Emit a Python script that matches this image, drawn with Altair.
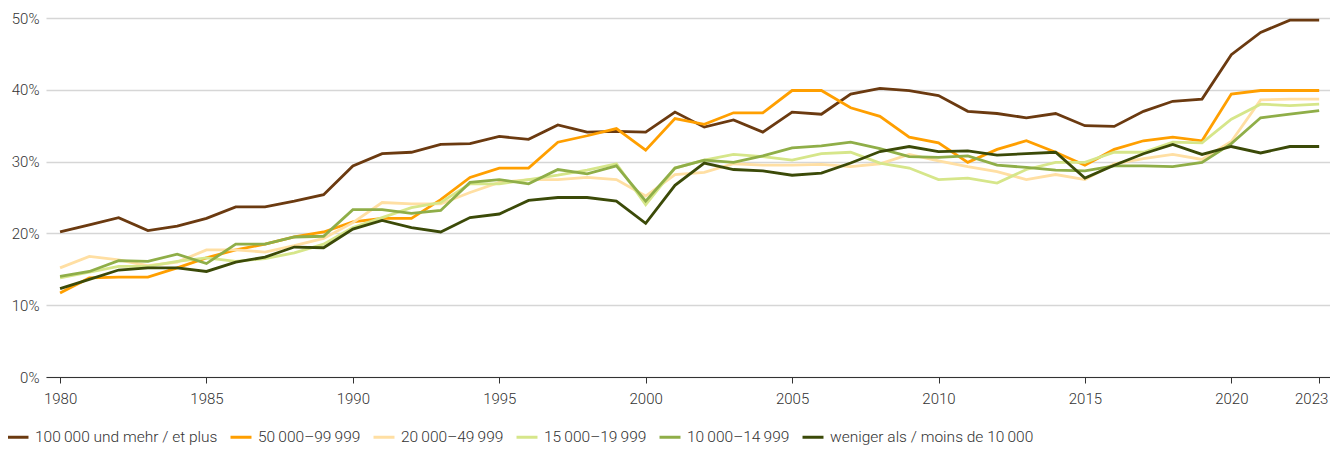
import altair as alt
import pandas as pd

years = list(range(1980, 2024))

s100k = [20.2, 21.2, 22.2, 20.4, 21.0, 22.1, 23.7, 23.7, 24.5, 25.4,
         29.4, 31.1, 31.3, 32.4, 32.5, 33.5, 33.1, 35.1, 34.1, 34.2,
         34.1, 36.9, 34.8, 35.8, 34.1, 36.9, 36.6, 39.4, 40.2, 39.9,
         39.2, 37.0, 36.7, 36.1, 36.7, 35.0, 34.9, 37.0, 38.4, 38.7,
         44.9, 48.0, 49.7, 49.7]
s50k = [11.7, 13.8, 13.9, 13.9, 15.2, 16.6, 17.7, 18.5, 19.5, 20.2,
        21.6, 22.1, 22.1, 24.7, 27.8, 29.1, 29.1, 32.7, 33.6, 34.6,
        31.6, 36.0, 35.2, 36.8, 36.8, 39.9, 39.9, 37.5, 36.3, 33.4,
        32.6, 29.9, 31.7, 32.9, 31.3, 29.5, 31.7, 32.9, 33.4, 32.9,
        39.4, 39.9, 39.9, 39.9]
s20k = [15.2, 16.8, 16.3, 15.5, 16.0, 17.7, 17.7, 17.4, 18.3, 19.3,
        21.5, 24.3, 24.1, 24.1, 25.7, 27.1, 27.5, 27.5, 27.8, 27.5,
        25.2, 28.2, 28.5, 29.7, 29.5, 29.5, 29.6, 29.3, 29.7, 31.0,
        30.1, 29.3, 28.6, 27.5, 28.2, 27.5, 29.7, 30.4, 31.0, 30.3,
        32.8, 38.6, 38.7, 38.7]
s15k = [13.8, 14.6, 15.4, 15.4, 16.1, 16.6, 16.1, 16.5, 17.3, 18.5,
        20.8, 22.2, 23.6, 24.3, 26.9, 26.9, 27.5, 28.1, 28.8, 29.7,
        24.0, 29.1, 30.2, 31.0, 30.7, 30.2, 31.1, 31.3, 29.8, 29.1,
        27.5, 27.7, 27.0, 28.9, 29.9, 29.9, 31.3, 31.3, 32.7, 32.6,
        35.9, 38.0, 37.8, 38.0]
s10k = [14.0, 14.7, 16.2, 16.1, 17.1, 15.8, 18.5, 18.5, 19.5, 19.6,
        23.3, 23.3, 22.8, 23.2, 27.1, 27.5, 26.9, 28.9, 28.3, 29.4,
        24.5, 29.1, 30.2, 29.9, 30.8, 31.9, 32.2, 32.7, 31.8, 30.7,
        30.6, 30.8, 29.5, 29.2, 28.8, 28.7, 29.4, 29.4, 29.3, 29.9,
        32.5, 36.1, 36.6, 37.1]
sless = [12.3, 13.6, 14.9, 15.2, 15.2, 14.7, 16.0, 16.7, 18.1, 18.0,
         20.6, 21.8, 20.8, 20.2, 22.2, 22.7, 24.6, 25.0, 25.0, 24.5,
         21.4, 26.7, 29.8, 28.9, 28.7, 28.1, 28.4, 29.8, 31.4, 32.1,
         31.4, 31.5, 30.9, 31.1, 31.3, 27.7, 29.5, 31.1, 32.4, 31.0,
         32.1, 31.2, 32.1, 32.1]

T = "\u2009"
series_names = [
    f"100{T}000 und mehr / et plus",
    f"50{T}000–99{T}999",
    f"20{T}000–49{T}999",
    f"15{T}000–19{T}999",
    f"10{T}000–14{T}999",
    f"weniger als / moins de 10{T}000",
]
series_values = [s100k, s50k, s20k, s15k, s10k, sless]
colors = ["#6b3a10", "#ff9f00", "#ffdfa3", "#d6e68a", "#8fae48", "#3b4a08"]

x_ticks = [1980, 1985, 1990, 1995, 2000, 2005, 2010, 2015, 2020, 2023]
y_ticks = [0, 10, 20, 30, 40, 50]

rows = []
for i, (name, vals) in enumerate(zip(series_names, series_values)):
    for y, v in zip(years, vals):
        rows.append({"Jahr": y, "Wert": v, "Serie": name, "ord": i})
df = pd.DataFrame(rows)

FONT = "Roboto"

chart = alt.Chart(df).mark_line(strokeWidth=2.8, strokeJoin="miter").encode(
    x=alt.X("Jahr:Q",
            scale=alt.Scale(domain=[1979.52, 2023.37], nice=False, zero=False),
            axis=alt.Axis(values=x_ticks, format="d", title=None, grid=False,
                          domainColor="#333333", domainWidth=1,
                          tickColor="#333333", tickSize=6, tickWidth=1,
                          labelPadding=8, labelFontSize=15, labelColor="#333333",
                          labelFont=FONT, labelFontWeight=300,
                          labelOffset={"condition": {"test": "datum.value == 2023", "value": -8},
                                       "value": 0})),
    y=alt.Y("Wert:Q",
            scale=alt.Scale(domain=[0, 50], nice=False),
            axis=alt.Axis(values=y_ticks, labelExpr="datum.value + '%'", title=None,
                          domain=False, ticks=False, grid=True,
                          gridColor="#d6d6d6", gridWidth=1.3,
                          labelPadding=7, labelFontSize=15, labelColor="#333333",
                          labelFont=FONT, labelFontWeight=300)),
    color=alt.Color("Serie:N",
                    scale=alt.Scale(domain=series_names, range=colors),
                    sort=series_names,
                    legend=alt.Legend(title=None, orient="none", direction="horizontal",
                                      legendX=-40, legendY=407,
                                      symbolType="stroke", symbolStrokeWidth=3,
                                      symbolSize=440, labelFontSize=15.5,
                                      labelFont=FONT, labelFontWeight=300,
                                      labelColor="#333333", labelOffset=5,
                                      columnPadding=6, labelLimit=400)),
    order=alt.Order("ord:Q"),
).properties(
    width=1284, height=359,
    padding={"left": 38, "top": 10, "right": 0, "bottom": 69},
    autosize=alt.AutoSizeParams(type="none"),
).configure_view(stroke=None)

chart.save("out.html", embed_options={"renderer": "svg", "actions": False})
